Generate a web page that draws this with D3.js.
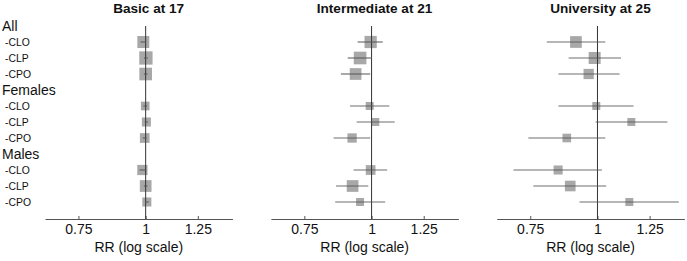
<!DOCTYPE html>
<html>
<head>
<meta charset="utf-8">
<script src="https://cdn.jsdelivr.net/npm/d3@7"></script>
<style>
  html, body { margin: 0; padding: 0; background: #fff; }
  svg { display: block; font-family: "Liberation Sans", Arial, sans-serif; }
</style>
</head>
<body>
<svg id="chart" width="687" height="261"></svg>
<script>
// ---- data ----
const panelTitles = ["Basic at 17", "Intermediate at 21", "University at 25"];
const groups = ["All", "Females", "Males"];
const clefts = ["-CLO", "-CLP", "-CPO"];
const tickValues = [0.75, 1, 1.25];
const tickLabels = ["0.75", "1", "1.25"];
const axisTitle = "RR (log scale)";

// order: All CLO/CLP/CPO, Females CLO/CLP/CPO, Males CLO/CLP/CPO
const rrBasic = [0.990, 1.001, 1.000, 0.998, 1.003, 0.996, 0.986, 1.000, 1.005];
const loBasic = [0.978, 0.993, 0.992, 0.990, 0.996, 0.988, 0.974, 0.992, 0.997];
const hiBasic = [1.002, 1.009, 1.008, 1.006, 1.010, 1.004, 0.998, 1.008, 1.013];
const wBasic  = [90, 100, 95, 65, 68, 73, 77, 88, 68];

const rrInter = [0.996, 0.952, 0.934, 0.992, 1.016, 0.920, 0.996, 0.922, 0.952];
const loInter = [0.942, 0.903, 0.877, 0.912, 0.938, 0.850, 0.926, 0.859, 0.856];
const hiInter = [1.049, 1.002, 0.994, 1.079, 1.104, 0.994, 1.069, 0.986, 1.060];
const wInter  = [92, 95, 88, 60, 60, 70, 73, 88, 60];

const rrUniv = [0.912, 0.988, 0.963, 0.995, 1.156, 0.877, 0.845, 0.890, 1.146];
const loUniv = [0.805, 0.884, 0.846, 0.846, 0.992, 0.744, 0.698, 0.760, 0.926];
const hiUniv = [1.034, 1.106, 1.099, 1.167, 1.349, 1.034, 1.019, 1.038, 1.416];
const wUniv  = [88, 90, 77, 60, 60, 65, 68, 80, 60];

const xDomain = [0.65, 1.45];

// ---- build ----
const series = [
  { rr: rrBasic, lo: loBasic, hi: hiBasic, w: wBasic },
  { rr: rrInter, lo: loInter, hi: hiInter, w: wInter },
  { rr: rrUniv,  lo: loUniv,  hi: hiUniv,  w: wUniv }
];

const rowKeys = [];
const rowLabels = [];
groups.forEach(g => {
  rowKeys.push(g); rowLabels.push({ key: g, text: g, header: true });
  clefts.forEach(c => { rowKeys.push(g + c); rowLabels.push({ key: g + c, text: c, header: false }); });
});
const pointKeys = [];
groups.forEach(g => clefts.forEach(c => pointKeys.push(g + c)));

const svg = d3.select("#chart");
const y = d3.scalePoint().domain(rowKeys).range([26, 202]);
const axisY = 219;
const size = d3.scaleLinear().domain([0, 100]).range([0, 13.3]);

const panelLeft0 = 45, panelStep = 225.9, panelWidth = 187.5;

// left row labels
svg.append("g").selectAll("text")
  .data(rowLabels).join("text")
  .attr("x", d => d.header ? 2 : 5)
  .attr("y", d => y(d.key))
  .attr("dy", "0.36em")
  .attr("font-size", d => d.header ? 14 : 10.4)
  .attr("fill", "#111")
  .text(d => d.text);

series.forEach((s, pi) => {
  const left = panelLeft0 + pi * panelStep;
  const x = d3.scaleLog().domain(xDomain).range([left, left + panelWidth]);
  const g = svg.append("g");

  g.append("text")
    .attr("x", x(1) + 3)
    .attr("y", 13)
    .attr("text-anchor", "middle")
    .attr("font-size", 13.6)
    .attr("font-weight", "bold")
    .attr("fill", "#111")
    .text(panelTitles[pi]);

  const axis = d3.axisBottom(x)
    .tickValues(tickValues)
    .tickFormat((d, i) => tickLabels[i])
    .tickSizeInner(-3)
    .tickSizeOuter(0)
    .tickPadding(7);
  const ag = g.append("g").attr("transform", `translate(0,${axisY})`).call(axis);
  ag.select(".domain").attr("stroke", "#555").attr("stroke-width", 1);
  ag.selectAll(".tick line").attr("stroke", "#555");
  ag.selectAll(".tick text")
    .attr("font-size", 14)
    .attr("font-family", "Liberation Sans, Arial, sans-serif")
    .attr("fill", "#111")
    .attr("y", 5);

  g.append("text")
    .attr("x", left + panelWidth / 2)
    .attr("y", 251.5)
    .attr("text-anchor", "middle")
    .attr("font-size", 14)
    .attr("fill", "#111")
    .text(axisTitle);

  const pts = pointKeys.map((k, i) => ({ k, rr: s.rr[i], lo: s.lo[i], hi: s.hi[i], w: s.w[i] }));
  g.append("g").selectAll("rect")
    .data(pts).join("rect")
    .attr("x", d => x(d.rr) - size(d.w) / 2)
    .attr("y", d => y(d.k) - size(d.w) / 2)
    .attr("width", d => size(d.w))
    .attr("height", d => size(d.w))
    .attr("fill", "#a8a8a8");

  g.append("line")
    .attr("x1", x(1)).attr("x2", x(1))
    .attr("y1", y(rowKeys[0])).attr("y2", axisY)
    .attr("stroke", "#333").attr("stroke-width", 1);

  g.append("g").selectAll("line")
    .data(pts).join("line")
    .attr("x1", d => x(d.lo)).attr("x2", d => x(d.hi))
    .attr("y1", d => y(d.k)).attr("y2", d => y(d.k))
    .attr("stroke", "#555").attr("stroke-width", 1.2).attr("stroke-opacity", 0.85);
});
</script>
</body>
</html>
